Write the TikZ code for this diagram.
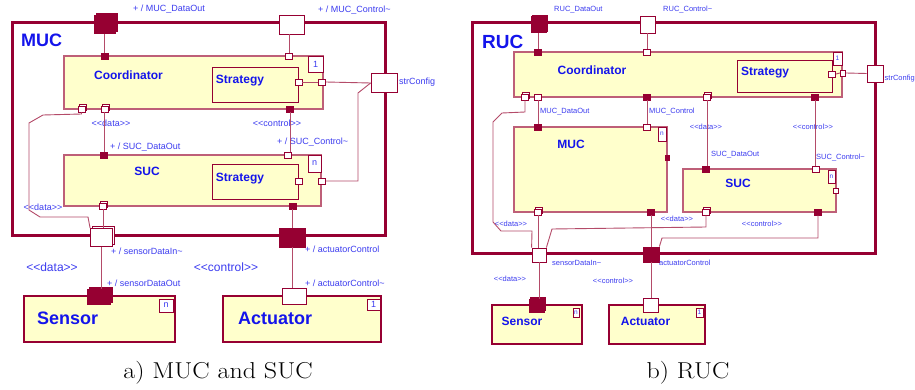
\documentclass[tikz,border=0pt]{standalone}
\usepackage{fontspec}
\newfontfamily\lsans{Liberation Sans}
\usetikzlibrary{fit,shadows}
\definecolor{dred}{RGB}{150,0,50}
\definecolor{bline}{RGB}{190,95,120}
\definecolor{wcol}{RGB}{180,75,105}
\definecolor{cyel}{RGB}{255,255,204}
\definecolor{tblue}{RGB}{20,20,235}
\definecolor{lblue}{RGB}{60,60,240}
\newcommand\ltlt{<\kern0pt<}
\newcommand\gtgt{>\kern0pt>}
\begin{document}
\begin{tikzpicture}[x=1pt,y=-1pt,
  frm/.style={draw=dred,line width=3pt,inner sep=0pt},
  cls/.style={draw=bline,fill=cyel,line width=1.1pt,inner sep=0pt},
  bigcls/.style={draw=dred,fill=cyel,line width=2.6pt,inner sep=0pt},
  strat/.style={draw=dred,fill=cyel,line width=0.9pt,inner sep=0pt},
  mult/.style={draw=dred,fill=white,line width=0.8pt,inner sep=0pt,text=lblue,font=\lsans\fontsize{9}{10}\selectfont},
  mults/.style={mult,font=\lsans\fontsize{6.5}{7}\selectfont},
  pw/.style={draw=dred,fill=white,line width=0.8pt,inner sep=0pt,minimum width=7pt,minimum height=6pt},
  pf/.style={draw=dred,fill=dred,line width=0.8pt,inner sep=0pt,minimum width=7pt,minimum height=6pt},
  shd/.style={copy shadow={shadow xshift=2pt,shadow yshift=2pt}},
  shds/.style={copy shadow={shadow xshift=1.3pt,shadow yshift=1.3pt}},
  wire/.style={draw=wcol,line width=0.9pt},
  lab/.style={text=lblue,font=\lsans\fontsize{9}{10}\selectfont,inner sep=0pt},
  labs/.style={text=lblue,font=\lsans\fontsize{7.5}{8}\selectfont,inner sep=0pt},
  labb/.style={text=lblue,font=\lsans\fontsize{12}{14}\selectfont,inner sep=0pt},
  ttl/.style={text=tblue,font=\lsans\bfseries\fontsize{12}{14}\selectfont,inner sep=0pt},
  ttlb/.style={text=tblue,font=\lsans\bfseries\fontsize{18}{20}\selectfont,inner sep=0pt},
  captxt/.style={font=\fontsize{23}{26}\selectfont,inner sep=0pt}
]
\useasboundingbox[fill=white] (0,0) rectangle (915,390);

%%%%%%%%%%%%%%%% (a) %%%%%%%%%%%%%%%%
\node[frm,fit={(12,23)(385,235)}] (mucF) {};
\node[ttlb,anchor=west] (mucT) at (21,40) {MUC};

\node[pf,shd,minimum width=21pt,minimum height=18pt] (pMDO) at (104.5,24.5) {};
\node[lab,anchor=west] (lMDO) at (133,9) {+ / MUC\_DataOut};
\node[pw,minimum width=25pt,minimum height=19pt] (pMC) at (291.5,24.5) {};
\node[lab,anchor=west] (lMC) at (318,10) {+ / MUC\_Control\textasciitilde};

\node[cls,fit={(64,56)(323,109)}] (coA) {};
\node[mult,minimum width=15pt,minimum height=16pt] (coAm) at (315.5,64) {1};
\node[ttl] (coAt) at (128.5,75) {Coordinator};
\node[strat,fit={(212,67)(298,102)}] (stA) {};
\node[ttl] (stAt) at (240,81) {Strategy};

\node[pf] (cTop1) at (104.5,56) {};
\node[pw] (cTop2) at (289,56) {};
\node[pw,shds] (cBot1) at (81.5,109) {};
\node[pw,shds] (cBot2) at (104.5,109) {};
\node[pf] (cBot3) at (290,109) {};
\node[pw] (stAp) at (298.5,82) {};
\node[pw] (cR) at (322,82) {};
\node[pw,minimum width=26pt,minimum height=19pt] (pSC) at (384,83) {};
\node[lab,anchor=west] (lSC) at (399,82) {strConfig};

\node[lab] (lD1) at (111,123) {\ltlt data\gtgt};
\node[lab] (lC1) at (277,123) {\ltlt control\gtgt};

\node[cls,fit={(64,155)(321,206)}] (sucA) {};
\node[mult,minimum width=13pt,minimum height=17pt] (sucAm) at (314.5,163.5) {n};
\node[ttl] (sucAt) at (147,171) {SUC};
\node[strat,fit={(212,164)(298,199)}] (stS) {};
\node[ttl] (stSt) at (240,179) {Strategy};

\node[pf] (sTop1) at (103.5,155) {};
\node[pw] (sTop2) at (287.5,155) {};
\node[pw,shds] (sBot1) at (103,206) {};
\node[pf] (sBot2) at (292.5,206) {};
\node[pw] (stSp) at (298.5,181) {};
\node[pw] (sR) at (322,181) {};
\node[lab,anchor=west] (lSDO) at (110,147) {+ / SUC\_DataOut};
\node[lab,anchor=west] (lSC2) at (277,142) {+ / SUC\_Control\textasciitilde};
\node[lab] (lD2) at (43,207) {\ltlt data\gtgt};

\node[pw,shd,minimum width=22pt,minimum height=18pt] (pSDI) at (101.5,237.5) {};
\node[lab,anchor=west] (lSDI) at (111,251) {+ / sensorDataIn\textasciitilde};
\node[pf,minimum width=26pt,minimum height=19pt] (pAC) at (292,237.5) {};
\node[lab,anchor=west] (lAC) at (305,249) {+ / actuatorControl};

\node[labb] (lD3) at (52,267) {\ltlt data\gtgt};
\node[labb] (lC3) at (226,267) {\ltlt control\gtgt};
\node[lab,anchor=west] (lSO) at (107,283) {+ / sensorDataOut};
\node[lab,anchor=west] (lACt) at (305,283) {+ / actuatorControl\textasciitilde};

\node[bigcls,fit={(24,296)(175,342)}] (senA) {};
\node[mult,minimum width=14pt,minimum height=13pt] (senAm) at (166,305.5) {n};
\node[ttlb,anchor=west] (senAt) at (37,318) {Sensor};
\node[pf,shd,minimum width=23pt,minimum height=15pt] (senAp) at (98.5,297) {};

\node[bigcls,fit={(223,296)(381,342)}] (actA) {};
\node[mult,minimum width=13pt,minimum height=11pt] (actAm) at (373.5,304.5) {1};
\node[ttlb,anchor=west] (actAt) at (238,318) {Actuator};
\node[pw,minimum width=24pt,minimum height=16pt] (actAp) at (294,296) {};

\node[captxt] (capA) at (218,373) {\scalebox{1.13}[1]{a) MUC and SUC}};

% wires (a)
\draw[wire] (cTop1.north) -- (cTop1.north |- pMDO.south);
\draw[wire] (cTop2.north) -- (cTop2.north |- pMC.south);
\draw[wire] (stAp.east) -- (cR.west);
\draw[wire] (cR.east) -- (pSC.west);
\draw[wire] (pSC.west) -- (358,93) -- (358,181) -- (sR.east);
\draw[wire] (cBot1.south) -- (81.5,114) -- (43,115) -- (29,123) -- (29,210) -- (40,217) -- (88,217) -- (pSDI.north west);
\draw[wire] (cBot2.south) -- (cBot2.south |- sTop1.north);
\draw[wire] (cBot3.south) -- (cBot3.south |- sTop2.north);
\draw[wire] (sBot1.south) -- (sBot1.south |- pSDI.north);
\draw[wire] (sBot2.south) -- (sBot2.south |- pAC.north);
\draw[wire] (pSDI.south) -- (pSDI.south |- senAp.north);
\draw[wire] (pAC.south) -- (pAC.south |- actAp.north);

%%%%%%%%%%%%%%%% (b) %%%%%%%%%%%%%%%%
\node[frm,fit={(472,23)(875,253)}] (rucF) {};
\node[ttlb,anchor=west,font=\lsans\bfseries\fontsize{19}{21}\selectfont] (rucT) at (482,42) {RUC};

\node[pf,shds,minimum width=15pt,minimum height=16pt] (pRDO) at (538.5,24.5) {};
\node[labs,anchor=west] (lRDO) at (554,10) {RUC\_DataOut};
\node[pw,minimum width=15pt,minimum height=17pt] (pRC) at (647.5,24.5) {};
\node[labs,anchor=west] (lRC) at (663,10) {RUC\_Control\textasciitilde};

\node[cls,fit={(514,52)(842,97)}] (coB) {};
\node[mults,minimum width=9pt,minimum height=13pt] (coBm) at (837.5,58.5) {1};
\node[ttl] (coBt) at (592,70) {Coordinator};
\node[strat,fit={(737,60)(832,92)}] (stB) {};
\node[ttl] (stBt) at (765,73) {Strategy};

\node[pf] (cbTop1) at (538,52) {};
\node[pw] (cbTop2) at (647,52) {};
\node[pw,shds] (cbBot1) at (525,97) {};
\node[pw] (cbBot2) at (538,97) {};
\node[pf] (cbBot3) at (647,97) {};
\node[pw,shds] (cbBot4) at (707,97) {};
\node[pf] (cbBot5) at (815,97) {};
\node[pw] (stBp) at (832,74) {};
\node[pw,minimum width=5pt] (cbR) at (843,73) {};
\node[pw,minimum width=16pt,minimum height=17pt] (pSCb) at (875,73.5) {};
\node[labs,anchor=west] (lSCb) at (884.5,79) {strConfig};

\node[labs,anchor=west] (lMDOb) at (540,112) {MUC\_DataOut};
\node[labs,anchor=west] (lMCb) at (649,112) {MUC\_Control};
\node[labs] (lDb1) at (706,127) {\ltlt data\gtgt};
\node[labs] (lCb1) at (813,127) {\ltlt control\gtgt};

\node[cls,fit={(514,127)(667,212)}] (mucB) {};
\node[mults,minimum width=8pt,minimum height=14pt] (mucBm) at (662,134) {n};
\node[ttl] (mucBt) at (571,144) {MUC};
\node[pf,minimum width=4pt,minimum height=5pt] (mbR) at (667,158) {};
\node[pf] (mbTop1) at (538,127) {};
\node[pw] (mbTop2) at (647,127) {};
\node[pw,shds] (mbBot1) at (538,212) {};
\node[pf] (mbBot2) at (651,212) {};

\node[cls,fit={(683,169)(836,212)}] (sucB) {};
\node[mults,minimum width=7pt,minimum height=13pt] (sucBm) at (831.5,176.5) {n};
\node[ttl] (sucBt) at (738,183) {SUC};
\node[pw,minimum width=5pt,minimum height=5pt] (sbR) at (836,191) {};
\node[pf] (sbTop1) at (706,169) {};
\node[pw] (sbTop2) at (816,169) {};
\node[pw,shds] (sbBot1) at (706,212) {};
\node[pf] (sbBot2) at (818,212) {};
\node[labs,anchor=west] (lSDOb) at (711,155) {SUC\_DataOut};
\node[labs,anchor=west] (lSCtb) at (816,158) {SUC\_Control\textasciitilde};

\node[labs] (lDb2) at (677,219) {\ltlt data\gtgt};
\node[labs] (lCb2) at (762,224) {\ltlt control\gtgt};
\node[labs] (lDb3) at (511,224) {\ltlt data\gtgt};

\node[pw,minimum width=14pt,minimum height=14pt] (pSDIb) at (539,255) {};
\node[labs,anchor=west] (lSDIb) at (552,263) {sensorDataIn\textasciitilde};
\node[pf,minimum width=16pt,minimum height=15pt] (pACb) at (651,254.5) {};
\node[labs,anchor=west] (lACb) at (659,263) {actuatorControl};
\node[labs] (lDb4) at (510,279) {\ltlt data\gtgt};
\node[labs] (lCb4) at (613,281) {\ltlt control\gtgt};

\node[bigcls,line width=2.4pt,fit={(492,305)(582,344)}] (senB) {};
\node[mults,minimum width=6pt,minimum height=9pt] (senBm) at (576,312.5) {n};
\node[ttl] (senBt) at (522,321) {Sensor};
\node[pf,shds,minimum width=15pt,minimum height=13pt] (senBp) at (537,305.5) {};

\node[bigcls,line width=2.4pt,fit={(609,305)(705,344)}] (actB) {};
\node[mults,minimum width=7pt,minimum height=9pt] (actBm) at (699.5,312.5) {1};
\node[ttl] (actBt) at (645.5,321) {Actuator};
\node[pw,minimum width=15pt,minimum height=14pt] (actBp) at (651,305) {};

\node[captxt] (capB) at (688,373) {\scalebox{1.13}[1]{b) RUC}};

% wires (b)
\draw[wire] (cbTop1.north) -- (cbTop1.north |- pRDO.south);
\draw[wire] (cbTop2.north) -- (cbTop2.north |- pRC.south);
\draw[wire] (stBp.east) -- (cbR.west);
\draw[wire] (cbR.east) -- (pSCb.west);
\draw[wire] (cbBot1.south) -- (525,112) -- (502,113) -- (493,122) -- (493,222) -- (501,231) -- (532,231) -- (pSDIb.north west);
\draw[wire] (cbBot2.south) -- (cbBot2.south |- mbTop1.north);
\draw[wire] (cbBot3.south) -- (cbBot3.south |- mbTop2.north);
\draw[wire] (cbBot4.south) -- (cbBot4.south |- sbTop1.north);
\draw[wire] (cbBot5.south) -- (cbBot5.south |- sbTop2.north);
\draw[wire] (mbBot1.south) -- (mbBot1.south |- pSDIb.north);
\draw[wire] (mbBot2.south) -- (mbBot2.south |- pACb.north);
\draw[wire] (sbBot1.south) -- (706,227) -- (552,229) -- (pSDIb.north east);
\draw[wire] (sbBot2.south) -- (818,238) -- (662,238) -- (pACb.north east);
\draw[wire] (pSDIb.south) -- (pSDIb.south |- senBp.north);
\draw[wire] (pACb.south) -- (pACb.south |- actBp.north);
\end{tikzpicture}
\end{document}
